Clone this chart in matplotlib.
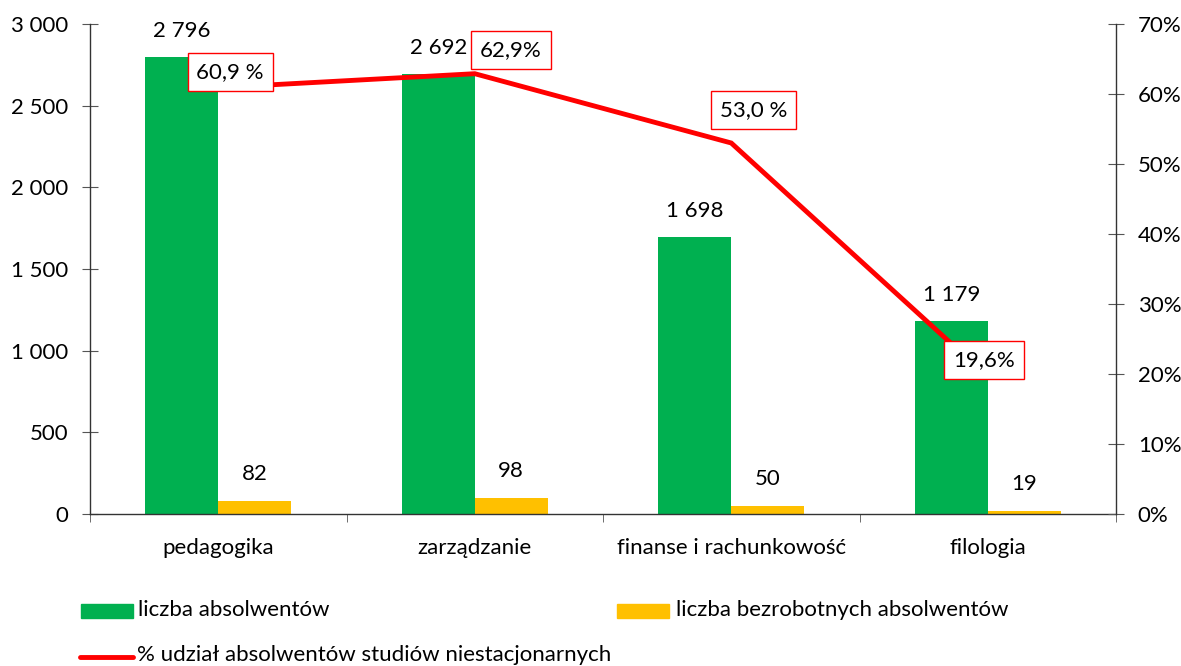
import matplotlib
matplotlib.use("Agg")
import matplotlib.pyplot as plt
from matplotlib.patches import Rectangle
from matplotlib.lines import Line2D
import numpy as np

categories = ["pedagogika", "zarządzanie", "finanse i rachunkowość", "filologia"]
graduates = [2796, 2692, 1698, 1179]
unemployed = [82, 98, 50, 19]
share_pct = [60.9, 62.9, 53.0, 19.6]
share_labels = ["60,9 %", "62,9%", "53,0 %", "19,6%"]
label_offsets = [(12, 16), (36, 24), (22, 33), (-4, 17)]

left_ticks = [0, 500, 1000, 1500, 2000, 2500, 3000]
right_ticks = [0, 10, 20, 30, 40, 50, 60, 70]

GREEN = "#00B050"
YELLOW = "#FFC000"
RED = "#FF0000"

plt.rcParams['font.family'] = ['Lato', 'DejaVu Sans']
FS = 16

def fmt_thousands(v):
    return f"{v:,}".replace(",", " ")

fig = plt.figure(figsize=(11.81, 6.66), dpi=100)
ax = fig.add_axes([90/1181, 1-514/666, (1116-90)/1181, (514-24)/666])
ax2 = ax.twinx()

x = np.arange(len(categories))
w = 0.285
ax.bar(x - w/2, graduates, width=w, color=GREEN, zorder=2)
ax.bar(x + w/2, unemployed, width=w, color=YELLOW, zorder=2)

for xi, v in zip(x - w/2, graduates):
    ax.annotate(fmt_thousands(v), (xi, v), xytext=(0, 26), textcoords='offset pixels',
                ha='center', va='center', fontsize=FS)
for xi, v in zip(x + w/2, unemployed):
    ax.annotate(fmt_thousands(v), (xi, v), xytext=(0, 27), textcoords='offset pixels',
                ha='center', va='center', fontsize=FS)

ax.set_xlim(-0.5, len(categories) - 0.5)
ax.set_ylim(0, 3000)
ax.set_yticks(left_ticks)
ax.set_yticklabels([fmt_thousands(t) for t in left_ticks], fontsize=FS)
ax.set_xticks(x)
ax.set_xticklabels(categories, fontsize=FS)
ax.tick_params(axis='x', length=0, pad=17)
ax.set_xticks(np.arange(len(categories) + 1) - 0.5, minor=True)
ax.tick_params(axis='x', which='minor', length=6, direction='out', color='#555555')
ax.tick_params(axis='y', direction='inout', length=11.5, color='#555555', pad=10)

ax2.set_ylim(0, 70)
ax2.set_yticks(right_ticks)
ax2.set_yticklabels([f"{t}%" for t in right_ticks], fontsize=FS)
ax2.tick_params(axis='y', direction='inout', length=11.5, color='#555555', pad=10)

for a in (ax, ax2):
    a.spines['top'].set_visible(False)
    for s in ('left', 'right', 'bottom'):
        a.spines[s].set_color('#333333')
        a.spines[s].set_linewidth(1.0)
ax.spines['right'].set_visible(False)
ax2.spines['left'].set_visible(False)
ax2.spines['bottom'].set_visible(False)

ax2.plot(x, share_pct, color=RED, lw=3.5, zorder=3, solid_joinstyle='miter')
for xi, v, lab, off in zip(x, share_pct, share_labels, label_offsets):
    ax2.annotate(lab, (xi, v), xytext=off, textcoords='offset pixels', ha='center', va='center',
                 fontsize=FS, zorder=5,
                 bbox=dict(boxstyle='square,pad=0.4', fc='white', ec=RED, lw=1.0))

# legend
fig.patches.append(Rectangle((81/1181, 1-618/666), 52/1181, 14/666, transform=fig.transFigure,
                             color=GREEN, figure=fig))
fig.text(138/1181, 1-610/666, "liczba absolwentów", fontsize=FS, va='center', ha='left')
fig.patches.append(Rectangle((617/1181, 1-618/666), 52/1181, 14/666, transform=fig.transFigure,
                             color=YELLOW, figure=fig))
fig.text(676/1181, 1-610/666, "liczba bezrobotnych absolwentów", fontsize=FS, va='center', ha='left')
fig.lines.append(Line2D([80/1181, 133/1181], [1-657/666, 1-657/666], transform=fig.transFigure,
                        color=RED, lw=3.5, solid_capstyle='round', figure=fig))
fig.text(137/1181, 1-655/666, "% udział absolwentów studiów niestacjonarnych", fontsize=FS,
         va='center', ha='left')

fig.savefig("out.png", dpi=100)
